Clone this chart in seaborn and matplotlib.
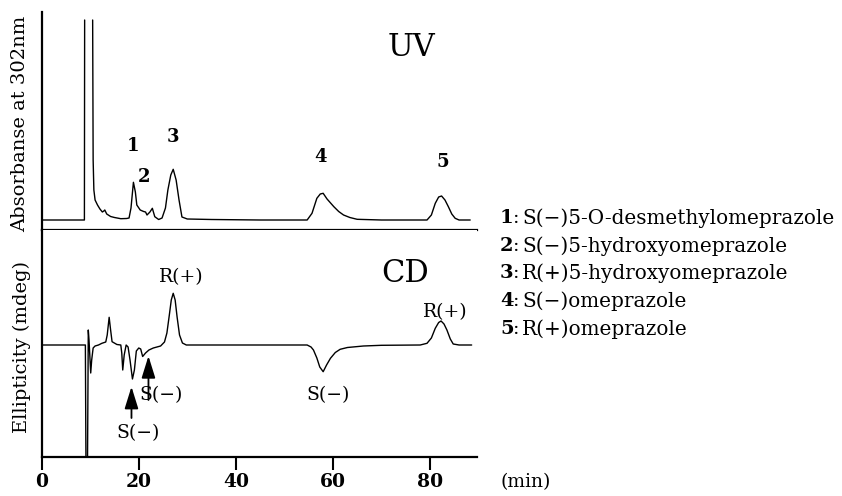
import matplotlib
matplotlib.use("Agg")
import matplotlib.pyplot as plt
import pandas as pd
import seaborn as sns

# ---------------- data ----------------
# UV trace (absorbance, arbitrary units), two drawn segments: solvent front rise, then the rest
uv_time = [0, 8.8, 8.85,
           10.5, 10.6, 10.75, 11.0, 11.5, 12.0, 12.5, 12.8, 13.0, 13.4, 14.2, 15.0, 16.3,
           17.5, 18.0, 18.4, 18.9, 19.3, 19.6, 20.3, 21.0, 21.4, 21.7, 22.3, 22.8, 23.3,
           24.1, 24.8, 25.5, 26.0, 26.6, 27.1, 27.7, 28.3, 28.9, 30.0, 35.0, 45.0,
           54.7, 55.7, 56.7, 57.4, 58.0, 58.8, 60.2, 61.2, 62.2, 63.5, 65.0, 70.0,
           79.4, 80.3, 81.1, 81.8, 82.4, 83.1, 83.8, 84.5, 85.2, 86.0, 88.3]
uv_signal = [0, 0, 200,
             200, 60, 30, 20, 15, 11, 8, 9, 10, 6, 3.5, 2.5, 1.3,
             1.5, 2, 12, 37.7, 28, 15, 10, 8.5, 8, 5, 8, 11.7, 3.3,
             0.5, 2, 12, 30, 45, 50.7, 40, 20, 3, 1, 0.5, 0,
             0, 6.7, 21.7, 26, 26.7, 21, 13.3, 8.5, 5, 2.5, 0.7, 0,
             0, 5, 16.7, 23, 24, 20, 13.3, 6, 1.7, 0, 0]
uv_segment = [0] * 3 + [1] * (len(uv_time) - 3)

# CD trace (ellipticity, arbitrary units)
cd_time = [0, 9.0, 9.15, 9.4, 9.6, 9.75, 10.1, 10.3, 10.6, 11.0, 11.7, 12.4, 13.2, 13.5,
           13.9, 14.2, 14.5, 15.5, 16.3, 16.5, 16.7, 17.0, 17.4, 17.8, 18.2, 18.7, 19.1,
           19.5, 20.0, 20.4, 20.8, 21.4, 22.1, 23.0, 24.5, 25.3, 25.8, 26.3, 26.7, 27.1,
           27.5, 27.9, 28.4, 29.0, 29.8, 40.0,
           54.7, 55.5, 56.0, 56.7, 57.3, 58.0, 58.7, 59.5, 60.5, 61.5, 63.0, 66.3, 70.0,
           78.0, 79.4, 80.3, 81.1, 81.8, 82.3, 82.9, 83.5, 84.2, 84.8, 86.0, 88.6]
cd_signal = [0, 0, -150, -150, 15, 5, -28, -15, -3, -1, 0, 1.7, 3, 10,
             27.7, 15, 3.3, 0.5, 0, -8, -25, -10, 0, -2, -15, -34, -25,
             -6, -3, -4, -11.5, -8, -5, -3, -1, 3, 12, 30, 45, 51.7,
             45, 28, 10, 2, 0, 0,
             0, -2, -5, -13, -22, -26.7, -20, -13.3, -7.5, -4.3, -2.5, -1, -0.3,
             0, 1.7, 7, 16.7, 22.5, 24, 21, 15, 6, 1, 0, 0]

x_ticks = [0, 20, 40, 60, 80]
peak_numbers = ["1", "2", "3", "4", "5"]
compounds = ["S(\u2212)5-O-desmethylomeprazole",
             "S(\u2212)5-hydroxyomeprazole",
             "R(+)5-hydroxyomeprazole",
             "S(\u2212)omeprazole",
             "R(+)omeprazole"]

uv_df = pd.DataFrame({"time": uv_time, "signal": uv_signal, "seg": uv_segment})
cd_df = pd.DataFrame({"time": cd_time, "signal": cd_signal})

# ---------------- style ----------------
sns.set_style("white")
plt.rcParams["font.family"] = ["DejaVu Serif"]
plt.rcParams["axes.linewidth"] = 1.6
plt.rcParams["axes.edgecolor"] = "black"
plt.rcParams["text.color"] = "black"
plt.rcParams["axes.labelcolor"] = "black"
plt.rcParams["xtick.color"] = "black"
plt.rcParams["ytick.color"] = "black"

W, H = 842, 496
fig = plt.figure(figsize=(W / 100, H / 100), dpi=100)

left_px, right_px = 41.7, 477.0
uv_top, mid_px, cd_bot = 12.0, 230.0, 456.7


def rect(top, bottom):
    return [left_px / W, 1 - bottom / H, (right_px - left_px) / W, (bottom - top) / H]


ax_uv = fig.add_axes(rect(uv_top, mid_px))
ax_cd = fig.add_axes(rect(mid_px, cd_bot))

xlim = (0, 89.7)

# UV panel
sns.lineplot(data=uv_df, x="time", y="signal", units="seg", estimator=None, sort=False,
             color="black", lw=1.0, ax=ax_uv)
ax_uv.set_xlim(*xlim)
ax_uv.set_ylim(-10, 208)
ax_uv.set_xticks([])
ax_uv.set_yticks([])
ax_uv.set_xlabel("")
ax_uv.set_ylabel("Absorbanse at 302nm", fontsize=14)
ax_uv.yaxis.label.set_va("center")
ax_uv.yaxis.set_label_coords((20 - left_px) / (right_px - left_px), 0.486)
for s in ["top", "right"]:
    ax_uv.spines[s].set_visible(False)

ax_uv.text(76.1, 173, "UV", fontsize=22, ha="center", va="center")
uv_label_pos = [(18.8, 74), (21.1, 43), (27.0, 83), (57.5, 63), (82.6, 58)]
for lab, (tx, ty) in zip(peak_numbers, uv_label_pos):
    ax_uv.text(tx, ty, lab, fontsize=13, fontweight="bold", ha="center", va="center")

# CD panel
sns.lineplot(data=cd_df, x="time", y="signal", estimator=None, sort=False,
             color="black", lw=1.0, ax=ax_cd)
ax_cd.set_xlim(*xlim)
ax_cd.set_ylim(-111.7, 115)
ax_cd.set_yticks([])
ax_cd.set_xticks(x_ticks)
ax_cd.set_xticklabels([str(t) for t in x_ticks], fontsize=13.5, fontweight="bold")
ax_cd.tick_params(axis="x", direction="out", length=9, width=1.5, pad=3, bottom=True,
                  color="black", labelcolor="black")
ax_cd.set_xlabel("")
ax_cd.set_ylabel("Ellipticity (mdeg)", fontsize=14)
ax_cd.yaxis.label.set_va("center")
ax_cd.yaxis.set_label_coords((22 - left_px) / (right_px - left_px), 0.485)
for s in ["top", "right"]:
    ax_cd.spines[s].set_visible(False)

ax_cd.text(74.8, 71, "CD", fontsize=22, ha="center", va="center")
ax_cd.text(28.7, 68, "R(+)", fontsize=13.5, ha="center", va="center")
ax_cd.text(83.1, 33, "R(+)", fontsize=13.5, ha="center", va="center")
ax_cd.text(59.0, -50, "S(\u2212)", fontsize=13.5, ha="center", va="center")
ax_cd.text(24.6, -50, "S(\u2212)", fontsize=13.5, ha="center", va="center")
ax_cd.text(19.8, -88, "S(\u2212)", fontsize=13.5, ha="center", va="center")

arrow_kw = dict(arrowstyle="-|>,head_length=1.35,head_width=0.42", color="black",
                lw=1.3, shrinkA=0, shrinkB=0)
ax_cd.annotate("", xy=(22.0, -11), xytext=(22.0, -55), arrowprops=arrow_kw)
ax_cd.annotate("", xy=(18.5, -41.7), xytext=(18.5, -73), arrowprops=arrow_kw)

fig.text(500 / W, 1 - 482 / H, "(min)", fontsize=13.5, ha="left", va="center")

# compound list
for i, (num, name) in enumerate(zip(peak_numbers, compounds)):
    y = 1 - (218 + 27.7 * i) / H
    fig.text(500 / W, y, num, fontsize=14, fontweight="bold", ha="left", va="center")
    fig.text(513 / W, y, ":", fontsize=14, ha="left", va="center")
    fig.text(522 / W, y, name, fontsize=14.4, ha="left", va="center")

fig.savefig("out.png", dpi=100)
